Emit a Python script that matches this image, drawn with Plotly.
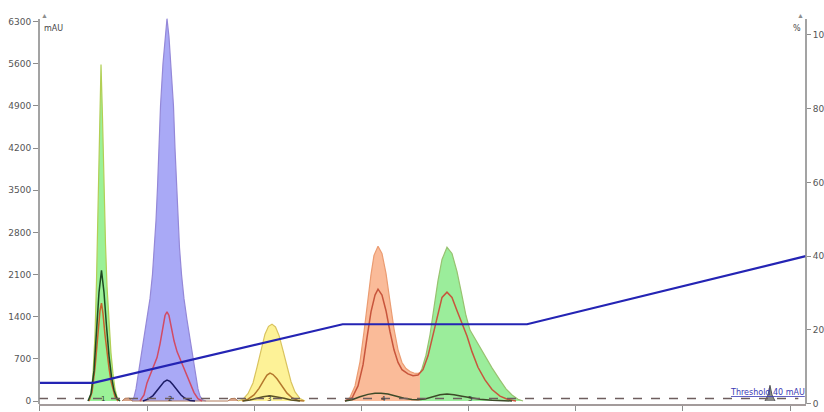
import plotly.graph_objects as go

# ---- Detector channel 1 (main UV trace), one array pair per collected fraction ----
uv1_A_min = [0.918, 0.955, 0.993, 1.030, 1.058, 1.086, 1.114, 1.142, 1.170, 1.198, 1.226, 1.254, 1.291, 1.328, 1.366, 1.403, 1.440, 1.496]
uv1_A_mau = [0, 120, 450, 1100, 2000, 3300, 4700, 5590, 4700, 3500, 2600, 1900, 1250, 800, 450, 200, 70, 0]

uv1_B_min = [1.720, 1.757, 1.795, 1.832, 1.879, 1.944, 2.000, 2.056, 2.102, 2.140, 2.168, 2.196, 2.224, 2.252, 2.298, 2.336, 2.373,
             2.410, 2.448, 2.494, 2.522, 2.550, 2.578, 2.606, 2.644, 2.690, 2.746, 2.802, 2.867, 2.914, 2.951, 2.989, 3.026, 3.063, 3.101]
uv1_B_mau = [0, 60, 200, 420, 700, 1020, 1350, 1700, 2100, 2550, 3000, 3550, 4200, 4900, 5600, 6050, 6350,
             6050, 5600, 4900, 4200, 3550, 3000, 2550, 2100, 1700, 1350, 1020, 700, 420, 200, 80, 30, 10, 0]

uv1_C_min = [3.698, 3.791, 3.884, 3.978, 4.052, 4.127, 4.201, 4.267, 4.332, 4.397, 4.463, 4.537, 4.612, 4.687, 4.761, 4.854, 4.948]
uv1_C_mau = [0, 30, 120, 300, 560, 850, 1110, 1240, 1277, 1230, 1090, 840, 560, 320, 150, 40, 0]

uv1_D_min = [5.694, 5.787, 5.881, 5.974, 6.049, 6.123, 6.179, 6.235, 6.310, 6.384, 6.459, 6.534, 6.608,
             6.683, 6.757, 6.832, 6.907, 6.981, 7.056, 7.093]
uv1_D_mau = [0, 60, 250, 650, 1150, 1700, 2100, 2420, 2570, 2450, 2120, 1650, 1200,
             850, 640, 540, 490, 465, 460, 470]

uv1_E_min = [7.093, 7.131, 7.205, 7.280, 7.354, 7.429, 7.504, 7.597, 7.690, 7.784, 7.877, 7.951, 8.026,
             8.175, 8.306, 8.437, 8.586, 8.698, 8.810, 8.922, 9.015]
uv1_E_mau = [470, 540, 760, 1100, 1550, 2000, 2350, 2553, 2450, 2150, 1750, 1420, 1177,
             950, 763, 550, 348, 200, 100, 30, 0]

# material eluted between fractions (not collected)
waste_min = [1.534, 1.590, 1.664, 1.700, 1.720, 3.511, 3.567, 3.642, 3.698]
waste_mau = [0, 45, 50, 30, 0, 0, 40, 45, 0]

late_min = [13.530, 13.586, 13.623, 13.661, 13.717]
late_mau = [0, 100, 260, 100, 0]

# ---- Detector channel 2 ----
uv2_A_min = [0.918, 0.974, 1.030, 1.076, 1.123, 1.151, 1.179, 1.216, 1.254, 1.291, 1.328, 1.366, 1.403, 1.459]
uv2_A_mau = [0, 150, 550, 1050, 1500, 1625, 1450, 1100, 800, 550, 330, 170, 70, 0]

uv2_B_min = [1.869, 1.944, 2.000, 2.075, 2.131, 2.187, 2.243, 2.299, 2.336, 2.373, 2.410, 2.448, 2.504,
             2.560, 2.616, 2.690, 2.765, 2.821, 2.877, 2.951, 3.026]
uv2_B_mau = [0, 100, 300, 470, 580, 720, 950, 1250, 1420, 1480, 1420, 1250, 1000,
             820, 700, 520, 360, 260, 140, 40, 0]

uv2_C_min = [3.772, 3.884, 3.996, 4.090, 4.183, 4.239, 4.295, 4.351, 4.425, 4.519, 4.612, 4.705, 4.817, 4.929]
uv2_C_mau = [0, 30, 100, 210, 350, 430, 464, 440, 370, 240, 130, 55, 10, 0]

uv2_DE_min = [5.694, 5.825, 5.937, 6.030, 6.104, 6.179, 6.254, 6.310, 6.384, 6.459, 6.534, 6.608, 6.683,
              6.757, 6.869, 6.963, 7.056, 7.149, 7.243, 7.336, 7.429, 7.504, 7.597, 7.690, 7.784,
              7.877, 7.970, 8.063, 8.175, 8.306, 8.437, 8.586, 8.735, 8.884]
uv2_DE_mau = [0, 50, 250, 600, 1050, 1480, 1760, 1857, 1760, 1500, 1150, 850, 640,
              520, 450, 420, 430, 520, 750, 1100, 1480, 1720, 1807, 1720, 1500,
              1300, 1080, 820, 560, 350, 190, 80, 25, 0]

# ---- Detector channel 3 ----
uv3_A_min = [0.899, 0.955, 1.011, 1.058, 1.104, 1.151, 1.198, 1.244, 1.291, 1.338, 1.384, 1.440, 1.496]
uv3_A_mau = [0, 120, 500, 1100, 1800, 2170, 1800, 1250, 750, 400, 180, 40, 0]

uv3_B_min = [1.925, 2.019, 2.112, 2.187, 2.261, 2.317, 2.373, 2.429, 2.485, 2.560, 2.634, 2.709, 2.802, 2.896]
uv3_B_mau = [0, 30, 90, 170, 260, 320, 348, 325, 270, 180, 100, 45, 10, 0]

uv3_C_min = [3.791, 3.922, 4.052, 4.164, 4.295, 4.425, 4.556, 4.687, 4.854]
uv3_C_mau = [0, 15, 45, 70, 85, 70, 45, 18, 0]

uv3_DE_min = [5.694, 5.825, 5.974, 6.123, 6.254, 6.366, 6.496, 6.646, 6.795, 6.944, 7.056, 7.187, 7.317,
              7.466, 7.597, 7.728, 7.877, 8.026, 8.213, 8.437, 8.679, 8.810]
uv3_DE_mau = [0, 20, 70, 110, 128, 130, 115, 80, 45, 25, 22, 35, 70,
              105, 115, 105, 80, 55, 30, 12, 3, 0]

# ---- Solvent gradient (%B) ----
grad_min = [0.0, 1.0, 5.65, 9.09, 14.29]
grad_pct = [5.6, 5.6, 21.5, 21.5, 40.0]

# ---- Fraction tags and threshold ----
frac_tags = ["1", "2", "3", "4", "5"]
frac_tag_min = [1.18, 2.43, 4.28, 6.42, 8.03]
threshold_mau = 40

x_ticks = [0, 2, 4, 6, 8, 10, 12, 14]
y_ticks = [0, 700, 1400, 2100, 2800, 3500, 4200, 4900, 5600, 6300]
pct_ticks = [0, 20, 40, 60, 80, 100]

fractions = [
    (uv1_A_min, uv1_A_mau, "rgba(150,240,145,0.95)", "#b2cf55"),
    (uv1_B_min, uv1_B_mau, "rgba(166,166,246,0.97)", "#9488d8"),
    (uv1_C_min, uv1_C_mau, "rgba(253,241,145,0.95)", "#d9c35e"),
    (uv1_D_min, uv1_D_mau, "rgba(250,183,148,0.95)", "#eb9c72"),
    (uv1_E_min, uv1_E_mau, "rgba(150,236,150,0.95)", "#98c270"),
]

fig = go.Figure()

for t, v, fc, lc in fractions:
    fig.add_trace(go.Scatter(x=t, y=v, mode="lines", fill="tozeroy", fillcolor=fc,
                             line=dict(color=lc, width=1.2), hoverinfo="skip"))

fig.add_trace(go.Scatter(x=waste_min, y=waste_mau, mode="lines", fill="tozeroy",
                         fillcolor="rgba(205,140,105,0.8)", line=dict(color="#b07a5a", width=1)))
fig.add_trace(go.Scatter(x=late_min, y=late_mau, mode="lines", fill="tozeroy",
                         fillcolor="rgba(90,90,90,0.7)", line=dict(color="#555555", width=1)))

channel2 = [
    (uv2_A_min, uv2_A_mau, "#c8642d"),
    (uv2_B_min, uv2_B_mau, "#d24b64"),
    (uv2_C_min, uv2_C_mau, "#b4782d"),
    (uv2_DE_min, uv2_DE_mau, "#c8553c"),
]
for t, v, c in channel2:
    fig.add_trace(go.Scatter(x=t, y=v, mode="lines", line=dict(color=c, width=1.5)))

channel3 = [
    (uv3_A_min, uv3_A_mau, "#1f4a22"),
    (uv3_B_min, uv3_B_mau, "#1c1c66"),
    (uv3_C_min, uv3_C_mau, "#5a5224"),
    (uv3_DE_min, uv3_DE_mau, "#3c4a28"),
]
for t, v, c in channel3:
    fig.add_trace(go.Scatter(x=t, y=v, mode="lines", line=dict(color=c, width=1.5)))

fig.add_trace(go.Scatter(x=grad_min, y=grad_pct, mode="lines", yaxis="y2",
                         line=dict(color="#2424b4", width=2.2)))

axis_grey = "#8c8c8c"
tick_font = dict(family="DejaVu Sans", size=9, color="#555555")

fig.update_layout(
    width=824, height=412,
    margin=dict(l=39, r=18, t=12, b=8, autoexpand=False),
    plot_bgcolor="white", paper_bgcolor="white",
    showlegend=False,
    xaxis=dict(range=[-0.015, 14.295], tickvals=x_ticks, ticks="outside", ticklen=5,
               tickcolor=axis_grey, showline=True, linecolor="#a39b9b", linewidth=2,
               showgrid=False, zeroline=False, tickfont=tick_font, automargin=False),
    yaxis=dict(range=[-49.8, 6461], tickvals=y_ticks, ticks="outside", ticklen=5,
               tickcolor=axis_grey, showline=False, showgrid=False, zeroline=False,
               tickfont=tick_font, automargin=False),
    yaxis2=dict(range=[-0.136, 106.24], tickvals=pct_ticks, ticks="outside", ticklen=4,
                tickcolor=axis_grey, overlaying="y", side="right", showline=False,
                showgrid=False, zeroline=False, tickfont=tick_font, automargin=False),
)

# threshold level
fig.add_shape(type="line", xref="paper", x0=0, x1=0.99, yref="y", y0=threshold_mau, y1=threshold_mau,
              line=dict(color="#6e5e5e", width=1.5, dash="dash"))

# vertical axis lines with arrow tips
for xp in (0, 1):
    fig.add_shape(type="line", xref="paper", yref="paper", x0=xp, x1=xp, y0=0, y1=0.982,
                  line=dict(color=axis_grey, width=1.6))
    fig.add_annotation(xref="paper", yref="paper", x=xp, y=0.975, text="▲", showarrow=False,
                       yanchor="bottom", font=dict(size=7, color=axis_grey))

fig.add_annotation(xref="paper", yref="paper", x=0, y=0.975, xanchor="left", yanchor="top",
                   xshift=3, text="mAU", showarrow=False,
                   font=dict(family="DejaVu Sans", size=8, color="#444444"))
fig.add_annotation(xref="paper", yref="paper", x=1, y=0.975, xanchor="right", yanchor="top",
                   xshift=-3, text="%", showarrow=False,
                   font=dict(family="DejaVu Sans", size=8, color="#444444"))

fig.add_annotation(xref="paper", yref="y", x=1, y=threshold_mau, xanchor="right", yanchor="bottom",
                   xshift=1, text="<u>Threshold 40 mAU</u>", showarrow=False,
                   font=dict(family="DejaVu Sans", size=8, color="#3a3ab4"))

for tag, tm in zip(frac_tags, frac_tag_min):
    fig.add_annotation(x=tm, y=threshold_mau, text=tag, showarrow=False, yanchor="middle",
                       font=dict(family="DejaVu Sans", size=7, color="#333333"))

fig.write_html("out.html")
